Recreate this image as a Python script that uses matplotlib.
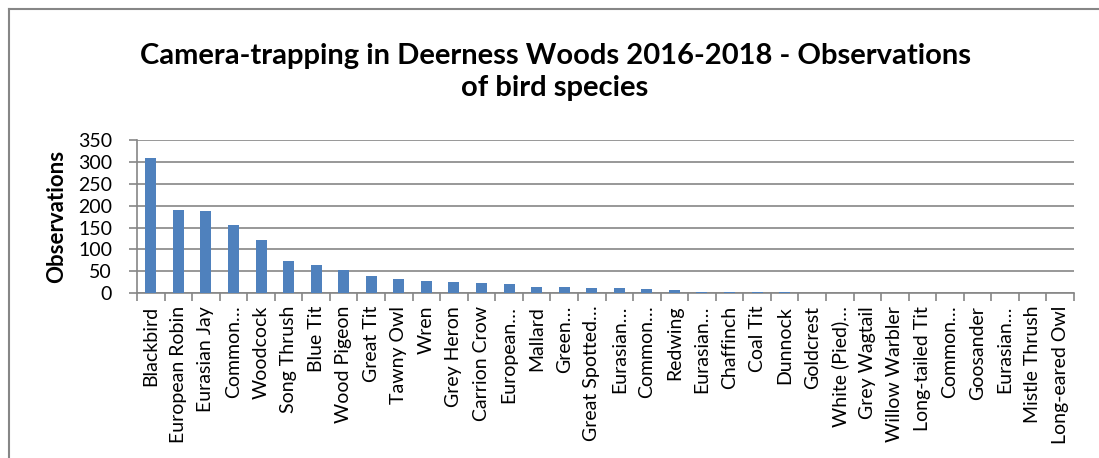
import matplotlib
matplotlib.use("Agg")
import matplotlib.pyplot as plt
from matplotlib.lines import Line2D
import numpy as np

species = [
    "Blackbird", "European Robin", "Eurasian Jay", "Common…", "Woodcock",
    "Song Thrush", "Blue Tit", "Wood Pigeon", "Great Tit", "Tawny Owl",
    "Wren", "Grey Heron", "Carrion Crow", "European…", "Mallard",
    "Green…", "Great Spotted…", "Eurasian…", "Common…", "Redwing",
    "Eurasian…", "Chaffinch", "Coal Tit", "Dunnock", "Goldcrest",
    "White (Pied)…", "Grey Wagtail", "Willow Warbler", "Long-tailed Tit", "Common…",
    "Goosander", "Eurasian…", "Mistle Thrush", "Long-eared Owl",
]
observations = [
    308, 189, 187, 156, 121,
    74, 65, 53, 39, 33,
    28, 26, 24, 21, 15,
    15, 13, 13, 9, 8,
    4, 2, 2, 2, 1,
    1, 1, 1, 1, 1,
    1, 1, 1, 1,
]
y_ticks = [0, 50, 100, 150, 200, 250, 300, 350]

title = "Camera-trapping in Deerness Woods 2016-2018 - Observations\nof bird species"
font = "Lato"
grey = "#868686"
bar_blue = "#4F81BD"

W, H = 1099, 458
fig = plt.figure(figsize=(W / 100, H / 100), dpi=100)
fig.patch.set_facecolor("white")

# plot area in pixel terms
left, right, top, bottom = 137, 1074, 139.8, 293.3
ax = fig.add_axes([left / W, (H - bottom) / H, (right - left) / W, (bottom - top) / H])

x = np.arange(len(species))
ax.bar(x, observations, width=0.4, color=bar_blue, zorder=3)

ax.set_xlim(-0.5, len(species) - 0.5)
ax.set_ylim(0, 350)
ax.set_yticks(y_ticks)
ax.set_yticklabels([str(v) for v in y_ticks], fontfamily=font, fontsize=14)
ax.yaxis.grid(True, color=grey, linewidth=1.2, zorder=0)
ax.tick_params(axis="y", length=6, width=1.2, color=grey, pad=12)

# category boundaries get the tick marks, labels sit at the centres
ax.set_xticks(np.arange(len(species) + 1) - 0.5)
ax.set_xticklabels([])
ax.set_xticks(x, minor=True)
ax.set_xticklabels(species, minor=True, rotation=90, fontfamily=font, fontsize=14,
                   va="top", ha="center")
ax.tick_params(axis="x", which="major", length=6, width=1.2, color=grey)
ax.tick_params(axis="x", which="minor", length=0, pad=9)

for side in ("top", "right"):
    ax.spines[side].set_visible(False)
for side in ("left", "bottom"):
    ax.spines[side].set_color(grey)
    ax.spines[side].set_linewidth(1.2)

ax.set_ylabel("Observations", fontfamily=font, fontsize=16, fontweight="bold", labelpad=8)

fig.text(555 / W, 1 - 72 / H, title, ha="center", va="center", fontfamily=font,
         fontsize=21, fontweight="bold", linespacing=1.3)

# chart-area border (only left and top edges are visible in the crop)
fig.add_artist(Line2D([8.5 / W, 8.5 / W], [0, 1 - 8.5 / H], transform=fig.transFigure,
                      color=grey, linewidth=1.5))
fig.add_artist(Line2D([8.5 / W, 1], [1 - 8.5 / H, 1 - 8.5 / H], transform=fig.transFigure,
                      color=grey, linewidth=1.5))

fig.savefig("out.png", dpi=100)
